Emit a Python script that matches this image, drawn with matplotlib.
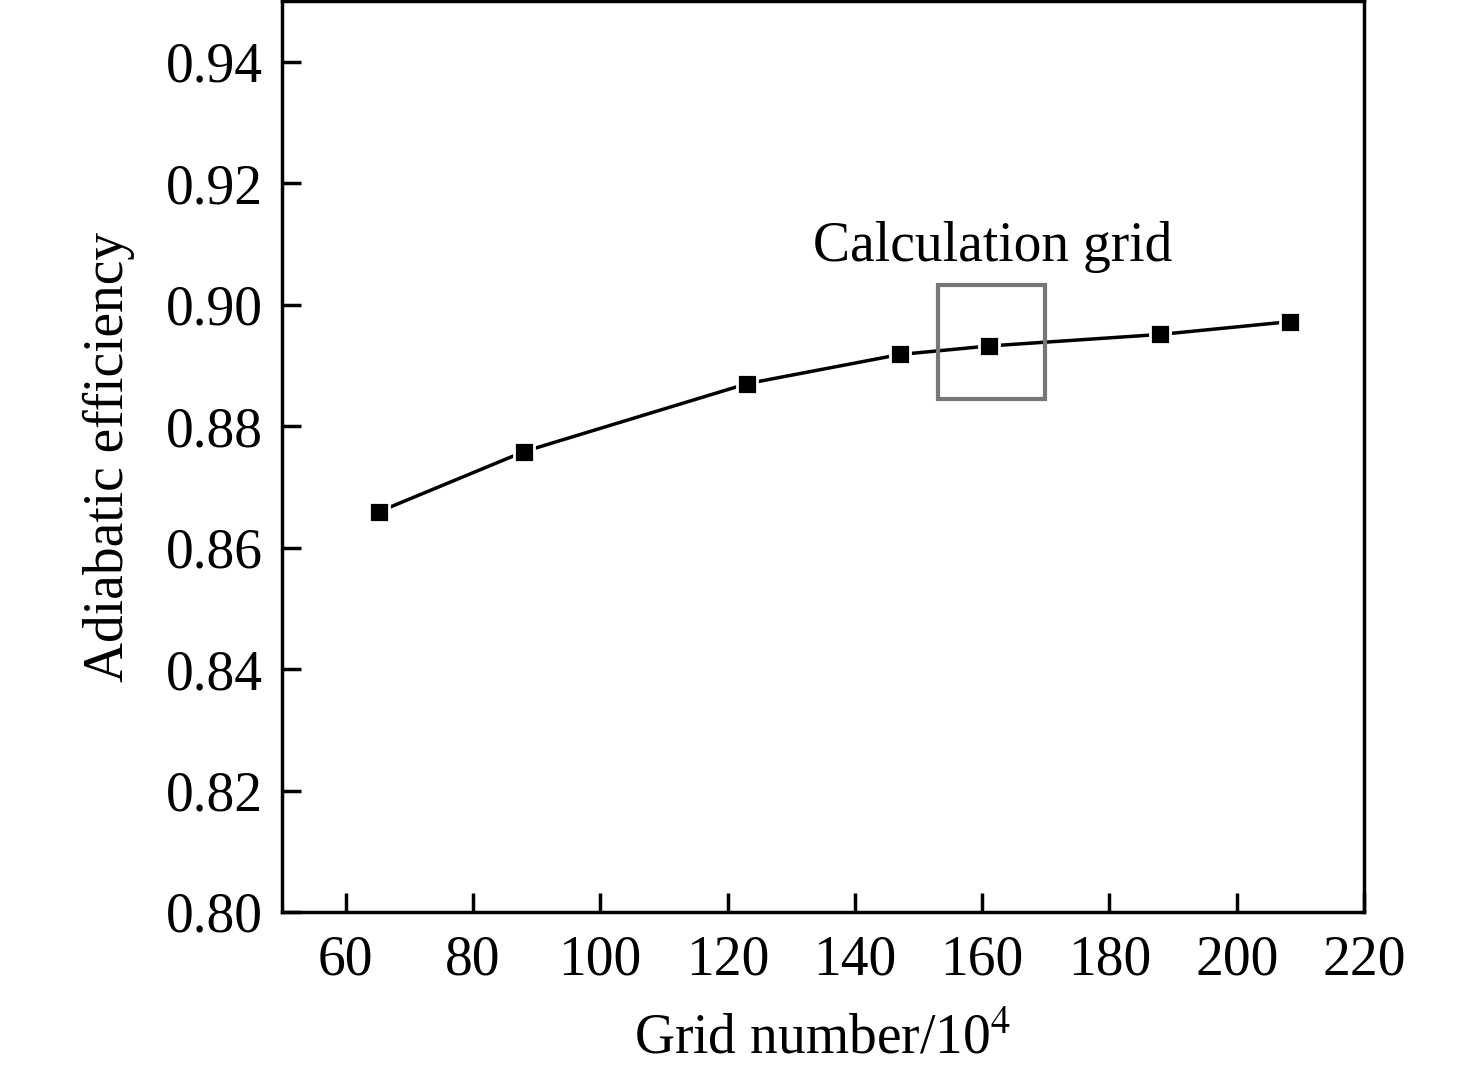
import matplotlib
matplotlib.use("Agg")
import matplotlib.pyplot as plt
from matplotlib.patches import Rectangle

plt.rcParams["font.family"] = ["Liberation Serif", "DejaVu Serif"]
plt.rcParams["mathtext.fontset"] = "stix"

grid_num = [65.2, 88.0, 123.1, 147.1, 161.1, 188.0, 208.3]
efficiency = [0.8659, 0.8758, 0.8870, 0.8918, 0.8932, 0.8951, 0.8972]
xticks = [60, 80, 100, 120, 140, 160, 180, 200, 220]
yticks = [0.80, 0.82, 0.84, 0.86, 0.88, 0.90, 0.92, 0.94]

fig = plt.figure(figsize=(14.76, 10.70), dpi=100)
ax = fig.add_axes([282/1476, 1 - 912/1070, (1364-282)/1476, (912-1)/1070])

ax.plot(grid_num, efficiency, color="black", lw=2.5, marker="s", ms=14,
        mfc="black", mec="white", mew=2)

# box around chosen grid
ax.add_patch(Rectangle((153.1, 0.8845), 16.8, 0.0188, fill=False,
                       ec="#777777", lw=3, zorder=5))
ax.text(161.6, 0.9095, "Calculation grid", fontsize=40, ha="center", va="center")

ax.set_xlim(50, 220)
ax.set_ylim(0.80, 0.95)
ax.set_xticks(xticks)
ax.set_yticks(yticks)
ax.set_yticklabels([f"{v:.2f}" for v in yticks])
ax.tick_params(direction="in", length=14, width=2.5, labelsize=40)
ax.tick_params(axis="x", pad=16)
ax.tick_params(axis="y", pad=14)
for s in ax.spines.values():
    s.set_linewidth(2.5)

ax.set_xlabel("Grid number/10$^4$", fontsize=40, labelpad=20)
ax.set_ylabel("Adiabatic efficiency", fontsize=40, labelpad=22)

fig.savefig("out.png", dpi=100)
